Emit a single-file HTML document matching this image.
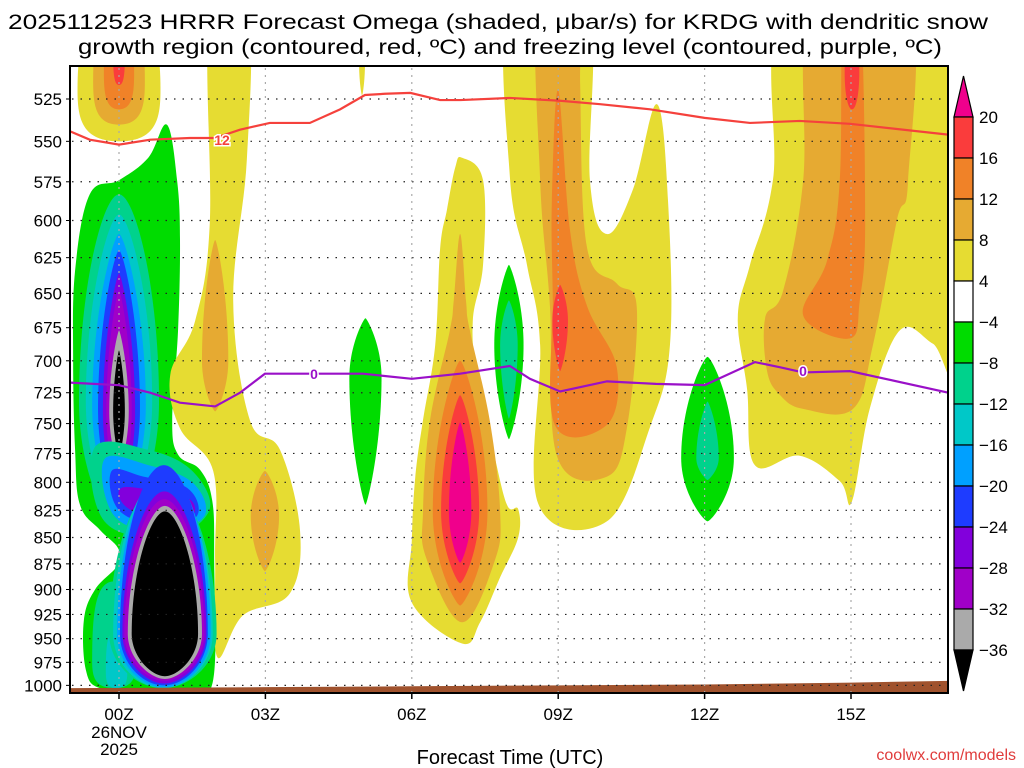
<!DOCTYPE html>
<html><head><meta charset="utf-8">
<style>
html,body{margin:0;padding:0;background:#fff;}
svg{display:block;font-family:"Liberation Sans","DejaVu Sans",sans-serif;}
</style></head>
<body>
<svg id="chart" width="1024" height="768" viewBox="0 0 1024 768" xmlns="http://www.w3.org/2000/svg">
  <defs><clipPath id="plotclip"><rect x="70" y="66" width="878" height="627"/></clipPath></defs>
  <rect x="0" y="0" width="1024" height="768" fill="#fff"/>
  <text x="498" y="29" font-size="21" text-anchor="middle" textLength="980" lengthAdjust="spacingAndGlyphs">2025112523 HRRR Forecast Omega (shaded, μbar/s) for KRDG with dendritic snow</text>
  <text x="510" y="54" font-size="21" text-anchor="middle" textLength="864" lengthAdjust="spacingAndGlyphs">growth region (contoured, red, ºC) and freezing level (contoured, purple, ºC)</text>
  <g id="fills" clip-path="url(#plotclip)"></g>
  <g id="grid"></g>
  <g id="lines" clip-path="url(#plotclip)"></g>
  <g id="axes"></g>
  <g id="cbar"></g>
  <text x="510" y="764" font-size="20" text-anchor="middle">Forecast Time (UTC)</text>
  <text x="1016" y="760" font-size="16" fill="#e03c3c" text-anchor="end">coolwx.com/models</text>
</svg>
<script>
// ---- data ----
const levelColors = ['#e6dc32','#e6aa32','#f08228','#fa3c3c','#f0008c','#00dc00','#00d28c','#00c8c8','#00a0ff','#1e3cff','#8200dc','#a000c8','#aaaaaa','#000000'];
const cbarLabels = ['20','16','12','8','4','−4','−8','−12','−16','−20','−24','−28','−32','−36'];
const cbarColors = ['#fa3c3c','#f08228','#e6aa32','#e6dc32','#ffffff','#00dc00','#00d28c','#00c8c8','#00a0ff','#1e3cff','#8200dc','#a000c8','#aaaaaa'];
const pressureTicks = [525,550,575,600,625,650,675,700,725,750,775,800,825,850,875,900,925,950,975,1000];
const hourTicks = [0,3,6,9,12,15];
const hourLabels = ['00Z','03Z','06Z','09Z','12Z','15Z'];
const polyLevels = [5, 0, 0, 1, 0, 1, 2, 0, 1, 2];
const polyPoints = [
 [[.98,540],[1.19,574],[1.25,613],[1.21,677],[1.09,747],[1.21,776],[1.66,789],[1.91,816],[1.95,871],[1.93,994],[1.45,1003],[.43,1003],[-.39,1003],[-.68,983],[-.72,931],[-.49,900],[-.02,876],[-.02,860],[-.39,843],[-.8,820],[-.9,772],[-.94,699],[-.9,634],[-.6,583],[0,574],[.6,560]],
 [[1.86,480],[2.64,480],[2.62,561],[2.34,655],[2.68,747],[3.3,772],[3.71,844],[3.5,904],[2.54,926],[2.01,969],[1.97,872],[1.93,790],[1.25,754],[1.05,711],[1.56,670],[1.86,602]],
 [[7.03,560],[7.46,574],[7.46,630],[7.25,670],[7.34,716],[7.66,771],[7.95,820],[8.18,824],[8.18,850],[7.81,888],[7.4,933],[7.03,955],[6.0,913],[6.0,853],[6.07,796],[6.23,747],[6.48,688],[6.58,619],[6.72,593],[6.89,566]],
 [[6.99,609],[7.11,655],[7.19,677],[7.6,748],[7.81,826],[7.7,872],[7.03,933],[6.3,870],[6.23,826],[6.37,748],[6.78,677],[6.86,655]],
 [[8.01,470],[9.59,470],[9.65,574],[10.0,609],[10.53,580],[11.02,528],[11.25,587],[11.29,688],[10.88,753],[10.0,835],[8.59,819],[8.63,688],[8.36,630],[8.01,572]],
 [[8.59,470],[9.45,470],[9.45,517],[9.59,618],[10.2,643],[10.61,660],[10.41,753],[10.0,795],[8.98,778],[8.83,659],[8.63,574]],
 [[9.0,520],[9.24,606],[9.59,659],[10.2,705],[10.0,751],[8.93,751],[8.89,655],[8.87,587]],
 [[13.75,470],[17.3,470],[17.3,704],[16.68,687],[16.0,677],[15.39,737],[15.02,817],[14.77,799],[13.95,777],[13.03,785],[12.87,722],[12.68,668],[12.93,630],[13.4,574]],
 [[14.22,470],[16.17,470],[16.17,574],[15.94,600],[15.45,688],[15.04,738],[14.02,738],[13.55,727],[13.28,708],[13.24,668],[13.61,648],[14.02,574]],
 [[14.84,470],[15.18,470],[15.29,600],[15.18,655],[14.98,683],[14.02,666],[14.51,627],[14.77,574]]
];
// bridge regions linking the upper column to the lower core: level, [hour, hPa]
const bridgeLevels = [6, 8, 9, 10];
const bridgePoints = [
 [[-.5,770],[.6,772],[1.5,790],[1.85,825],[1.0,850],[-.3,835]],
 [[-.3,780],[.6,785],[1.5,800],[1.75,830],[.9,845],[-.1,830]],
 [[-.15,790],[.5,795],[1.4,805],[1.6,830],[.9,840],[0,825]],
 [[.05,805],[.8,808],[1.45,815],[1.5,830],[.9,835],[.15,822]]
];
// spindles: [hour, pTop, pMid, pBottom, halfWidthHours, level, roundness]
const spindles = [
 [0,480,520,550,.85,0,.9],[0,480,515,540,.53,1,.9],[0,480,510,531,.31,2,.9],[0,480,500,517,.12,3,.9],
 [-.1,892,974,1003,.45,6,.9],[-.05,940,985,1003,.22,7,.9],
 [0,583,732,835,.82,6,.4],[0,596,732,830,.68,7,.3],[0,609,735,826,.55,8,.2],[0,620,738,822,.43,9,.2],
 [0,636,740,815,.33,10,.15],[0,648,740,808,.26,11,.15],[0,677,740,788,.2,12,.1],[0,692,740,778,.12,13,.1],
 [.9,800,945,1003,1.1,6,.5],[.9,795,945,1003,1.02,7,.5],[.92,790,945,1002,.96,8,.5],[.92,785,945,1000,.9,9,.5],
 [.93,808,945,998,.86,10,.45],[.93,815,945,995,.82,11,.45],[.94,821,945,993,.76,12,.4],[.94,826,945,990,.68,13,.4],
 [1.97,613,700,740,.27,1,.15],[2.99,790,830,882,.29,1,.15],
 [4.98,480,505,523,.06,0,.2],
 [5.05,668,713,820,.33,5,.1],
 [6.99,700,826,916,.56,2,.15],[6.99,727,826,894,.39,3,.15],[6.99,749,826,874,.23,4,.15],
 [7.99,630,688,763,.3,5,.1],[7.99,655,688,746,.18,6,.1],
 [9.04,644,670,708,.16,3,.1],
 [12.06,697,779,835,.54,5,.15],[12.06,732,779,798,.23,6,.1],
 [15.02,480,510,531,.15,3,.6]
];
const dgzLine = [[-1,544],[-.6,549],[0,552],[.64,549],[1.45,548],[1.97,548],[2.48,543],[3.09,539],[3.91,539],[4.53,531],[5.04,522.7],[5.45,522],[5.97,521.5],[6.58,525.6],[7.0,525.6],[8.01,524.4],[9.04,526],[9.86,528],[10.88,531],[12.0,536],[12.93,539],[13.95,537.8],[14.98,539.5],[17,546]];
const frzLine = [[-1,717],[0,719],[.64,725],[1.25,733],[1.97,736],[2.48,725],[2.99,710],[3.5,710],[4.53,710],[5.0,710],[6.0,714],[6.99,710],[8.01,704],[8.42,714],[9.04,724],[10.0,716],[11.0,718],[12.0,719],[13.03,701],[13.55,705],[14.02,709],[14.98,708],[17.0,725]];
const terrain = [[-1,1003],[3,1002],[6,1001],[9,1000],[12,999],[15,997],[17,995]];

// ---- scales ----
const X = h => 119 + h*48.8;
const Y = p => 99 + 910*Math.log(p/525);
const NS='http://www.w3.org/2000/svg';
function mk(tag, attrs, parent){const e=document.createElementNS(NS,tag);for(const k in attrs)e.setAttribute(k,attrs[k]);parent.appendChild(e);return e;}
function smoothClosed(pts){
  const n=pts.length;let d=`M${pts[0][0]},${pts[0][1]}`;
  for(let i=0;i<n;i++){const p0=pts[(i-1+n)%n],p1=pts[i],p2=pts[(i+1)%n],p3=pts[(i+2)%n];const t=0.18;
    d+=` C${p1[0]+(p2[0]-p0[0])*t},${p1[1]+(p2[1]-p0[1])*t} ${p2[0]-(p3[0]-p1[0])*t},${p2[1]-(p3[1]-p1[1])*t} ${p2[0]},${p2[1]}`;}
  return d+'Z';
}
const fills=document.getElementById('fills');
polyPoints.forEach((poly,i)=>{
  const pts=poly.map(q=>[X(q[0]),Y(q[1])]);
  const el=mk('path',{d:smoothClosed(pts),fill:levelColors[polyLevels[i]]},fills);
  
  
});
function drawSpindle(s){
  const [h,pt,pm,pb,hw,lev,r]=s;
  const cx=X(h),ty=Y(pt),my=Y(pm),by=Y(pb),w=hw*48.8;
  const d=`M${cx},${ty} C${cx+w*r},${ty} ${cx+w},${ty+(my-ty)*0.45} ${cx+w},${my} C${cx+w},${my+(by-my)*0.55} ${cx+w*r},${by} ${cx},${by} C${cx-w*r},${by} ${cx-w},${my+(by-my)*0.55} ${cx-w},${my} C${cx-w},${ty+(my-ty)*0.45} ${cx-w*r},${ty} ${cx},${ty}Z`;
  const el=mk('path',{d:d,fill:levelColors[lev]},fills);
  
  
}
// upper-left background spindles first (indices 0..13), then bridges, then the rest
spindles.slice(0,14).forEach(drawSpindle);
bridgePoints.forEach((poly,i)=>{
  const pts=poly.map(q=>[X(q[0]),Y(q[1])]);
  const el=mk('path',{d:smoothClosed(pts),fill:levelColors[bridgeLevels[i]]},fills);
  
  
});
spindles.slice(14).forEach(drawSpindle);
{
  let d=`M${X(terrain[0][0])},700`;terrain.forEach(q=>{d+=` L${X(q[0])},${Y(q[1])}`;});d+=` L${X(terrain[terrain.length-1][0])},700Z`;
  const el=mk('path',{d:d,fill:'#a0522d'},fills);
  
  
}
const grid=document.getElementById('grid');
pressureTicks.forEach(p=>{
  const el=mk('line',{x1:72,x2:946,y1:Y(p),y2:Y(p),stroke:'#222','stroke-width':1.2,'stroke-dasharray':'1.5 7'},grid);
  
  
});
hourTicks.forEach(h=>{
  const el=mk('line',{x1:X(h),x2:X(h),y1:68,y2:692,stroke:'#aaa','stroke-width':1.2,'stroke-dasharray':'2 5'},grid);
  
  
});
const lines=document.getElementById('lines');
{
  const el=mk('polyline',{points:dgzLine.map(q=>X(q[0])+','+Y(q[1])).join(' '),fill:'none',stroke:'#f5413c','stroke-width':2.2},lines);
  
  
  const el2=mk('polyline',{points:frzLine.map(q=>X(q[0])+','+Y(q[1])).join(' '),fill:'none',stroke:'#9a10c8','stroke-width':2.2},lines);
  
  
  const lb=mk('text',{x:222,y:145,'font-size':14,'font-weight':'bold',fill:'#f5413c','text-anchor':'middle',stroke:'#fff','stroke-width':3,'paint-order':'stroke'},lines);
  lb.textContent='12';
  
  
  [[314,379],[803,376]].forEach(q=>{
    const t=mk('text',{x:q[0],y:q[1],'font-size':14,'font-weight':'bold',fill:'#9a10c8','text-anchor':'middle',stroke:'#fff','stroke-width':3,'paint-order':'stroke'},lines);
    t.textContent='0';
    
    
  });
}
const axes=document.getElementById('axes');
{
  const fr=mk('rect',{x:70,y:66,width:878,height:627,fill:'none',stroke:'#000','stroke-width':2},axes);
  
  
  pressureTicks.forEach(p=>{
    const t=mk('text',{x:62,y:Y(p)+6,'font-size':17,'text-anchor':'end'},axes);
    t.textContent=String(p);
    
    
    const tk=mk('line',{x1:70,x2:66,y1:Y(p),y2:Y(p),stroke:'#000','stroke-width':1},axes);
    
    
  });
  hourTicks.forEach((h,i)=>{
    const tk=mk('line',{x1:X(h),x2:X(h),y1:693,y2:699,stroke:'#000','stroke-width':1.5},axes);
    
    
    const t=mk('text',{x:X(h),y:720,'font-size':17,'text-anchor':'middle'},axes);
    t.textContent=hourLabels[i];
    
    
  });
  const d1=mk('text',{x:X(0),y:738,'font-size':17,'text-anchor':'middle'},axes);
  d1.textContent='26NOV';
  
  
  const d2=mk('text',{x:X(0),y:755,'font-size':17,'text-anchor':'middle'},axes);
  d2.textContent='2025';
  
  
}
const cb=document.getElementById('cbar');
{
  const top=117,step=41,x0=954,w=19;
  const tri=mk('polygon',{points:`${x0},${top} ${x0+w},${top} ${x0+w/2},${top-41}`,fill:'#f0008c',stroke:'#000','stroke-width':1.2},cb);
  
  
  cbarColors.forEach((c,i)=>{
    const r=mk('rect',{x:x0,y:top+i*step,width:w,height:step,fill:c,stroke:'#000','stroke-width':1.2},cb);
    
    
  });
  const yb=top+cbarColors.length*step;
  const tri2=mk('polygon',{points:`${x0},${yb} ${x0+w},${yb} ${x0+w/2},${yb+41}`,fill:'#000',stroke:'#000','stroke-width':1.2},cb);
  
  
  cbarLabels.forEach((l,i)=>{
    const t=mk('text',{x:979,y:top+i*step+6,'font-size':17},cb);
    t.textContent=l;
    
    
  });
}
</script>
</body></html>
